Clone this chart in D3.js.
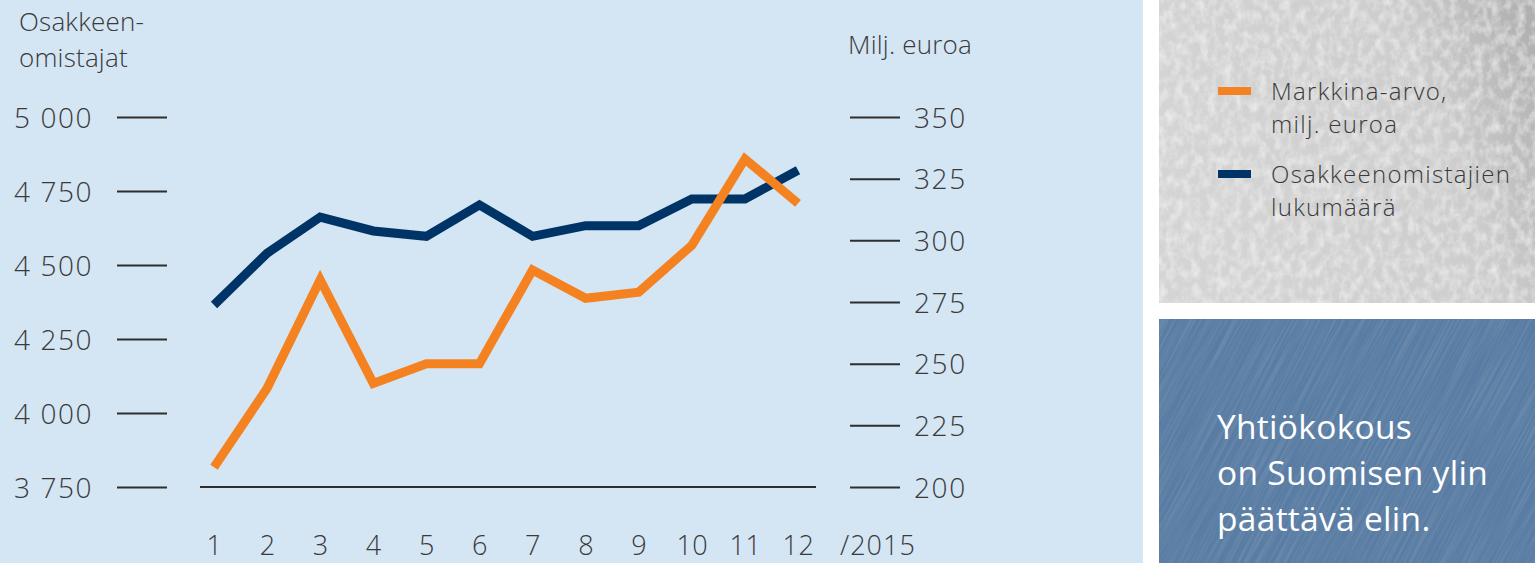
<!DOCTYPE html>
<html><head><meta charset="utf-8">
<script src="https://cdn.jsdelivr.net/npm/d3@7/dist/d3.min.js"></script>
<style>
html,body{margin:0;padding:0;background:#fff;overflow:hidden;}
svg{display:block;}
</style></head>
<body>
<svg id="c" width="1535" height="563"></svg>
<script>
const months = ["1","2","3","4","5","6","7","8","9","10","11","12"];
const shareholders = [4365, 4540, 4662, 4615, 4597, 4703, 4597, 4633, 4633, 4723, 4723, 4820];
const marketValue = [208, 240, 284, 242, 250, 250, 288, 276.5, 279, 298, 333, 315];
const leftTicks = [3750, 4000, 4250, 4500, 4750, 5000];
const rightTicks = [200, 225, 250, 275, 300, 325, 350];
const legendItems = [
  {lines:["Markkina-arvo,","milj. euroa"], color:"#f58220"},
  {lines:["Osakkeenomistajien","lukumäärä"], color:"#003466"}
];
const panelLines = ["Yhtiökokous","on Suomisen ylin","päättävä elin."];

const svg = d3.select("#c");
const font = "'Open Sans', Lato, sans-serif";
const txt = "#3a3a3a";

// defs: textures
const defs = svg.append("defs");
const fg = defs.append("filter").attr("id","greyTex").attr("x",0).attr("y",0).attr("width","100%").attr("height","100%");
fg.append("feTurbulence").attr("type","fractalNoise").attr("baseFrequency","0.12 0.09").attr("numOctaves",5).attr("seed",4).attr("result","n");
fg.append("feColorMatrix").attr("in","n").attr("type","matrix")
  .attr("values","0 0 0 0 0.96  0 0 0 0 0.96  0 0 0 0 0.96  1.1 0 0 0 -0.42").attr("result","a");
fg.append("feComposite").attr("in","a").attr("in2","SourceGraphic").attr("operator","atop");
const fb = defs.append("filter").attr("id","blueTex").attr("x",0).attr("y",0).attr("width","100%").attr("height","100%");
fb.append("feTurbulence").attr("type","fractalNoise").attr("baseFrequency","0.012 0.5").attr("numOctaves",2).attr("seed",7).attr("result","n");
fb.append("feColorMatrix").attr("in","n").attr("type","matrix")
  .attr("values","0 0 0 0 0.48  0 0 0 0 0.6  0 0 0 0 0.74  0.35 0 0 0 -0.14").attr("result","a");
fb.append("feComposite").attr("in","a").attr("in2","SourceGraphic").attr("operator","atop");
const grad = defs.append("linearGradient").attr("id","gg").attr("x1",0).attr("y1",0.3).attr("x2",1).attr("y2",0);
grad.append("stop").attr("offset","0").attr("stop-color","#d4d4d4");
grad.append("stop").attr("offset","0.65").attr("stop-color","#cdcdcd");
grad.append("stop").attr("offset","1").attr("stop-color","#adadad");
defs.append("clipPath").attr("id","bclip").append("rect").attr("x",1159).attr("y",319).attr("width",376).attr("height",244);

// panels
svg.append("rect").attr("x",0).attr("y",0).attr("width",1143).attr("height",563).attr("fill","#d4e5f4");
svg.append("rect").attr("x",1159).attr("y",0).attr("width",376).attr("height",303).attr("fill","url(#gg)").attr("filter","url(#greyTex)");
svg.append("g").attr("clip-path","url(#bclip)")
  .append("g").attr("transform","rotate(-62 1347 441)")
  .append("rect").attr("x",1047).attr("y",141).attr("width",600).attr("height",600)
  .attr("fill","#587ca3").attr("filter","url(#blueTex)");

// scales
const x = d3.scalePoint().domain(months).range([214, 798]);
const yL = d3.scaleLinear().domain([3750, 5000]).range([487, 117]);
const yR = d3.scaleLinear().domain([200, 350]).range([487, 117]);

const tickStyle = s => s.attr("fill",txt).style("font-family",font).style("font-size","28px")
  .style("font-weight",300).style("letter-spacing","1.6px");
const titleStyle = s => s.attr("fill",txt).style("font-family",font).style("font-size","26px")
  .style("font-weight",300).style("letter-spacing","0.2px");

// left axis
const la = svg.append("g").attr("transform","translate(167,0)")
  .call(d3.axisLeft(yL).tickValues(leftTicks).tickSize(50).tickPadding(0).tickFormat(()=>""));
la.select(".domain").remove();
la.selectAll(".tick line").attr("stroke","#2e2e2e").attr("stroke-width",2);
la.selectAll(".tick").append("text").attr("x",-153).attr("dy","0.36em").attr("text-anchor","start")
  .call(tickStyle).text(d=>d3.format(",")(d).replace(","," "));

// right axis
const ra = svg.append("g").attr("transform","translate(850,0)")
  .call(d3.axisRight(yR).tickValues(rightTicks).tickSize(50).tickPadding(0).tickFormat(()=>""));
ra.select(".domain").remove();
ra.selectAll(".tick line").attr("stroke","#2e2e2e").attr("stroke-width",2);
ra.selectAll(".tick").append("text").attr("x",64).attr("dy","0.36em").attr("text-anchor","start")
  .call(tickStyle).text(d=>d);

// baseline
svg.append("line").attr("x1",200).attr("x2",816).attr("y1",yL(3750)).attr("y2",yL(3750))
  .attr("stroke","#2e2e2e").attr("stroke-width",2);

// x labels
const xa = svg.append("g").attr("transform","translate(0,520)")
  .call(d3.axisBottom(x).tickSize(0).tickPadding(0));
xa.select(".domain").remove();
xa.selectAll(".tick text").attr("y",35).attr("dy",0).call(tickStyle).style("font-size","27px").style("letter-spacing","0.5px");
svg.append("text").attr("x",840).attr("y",555).call(tickStyle).style("font-size","27px").style("letter-spacing","1px").text("/2015");

// axis titles
const lt = svg.append("text").call(titleStyle);
lt.append("tspan").attr("x",19).attr("y",31).text("Osakkeen-");
lt.append("tspan").attr("x",19).attr("y",67).text("omistajat");
svg.append("text").attr("x",848).attr("y",54).call(titleStyle).text("Milj. euroa");

// lines
const lineL = d3.line().x((d,i)=>x(months[i])).y(d=>yL(d));
const lineR = d3.line().x((d,i)=>x(months[i])).y(d=>yR(d));
svg.append("path").datum(shareholders).attr("d",lineL).attr("fill","none")
  .attr("stroke","#003466").attr("stroke-width",9).attr("stroke-linejoin","miter");
svg.append("path").datum(marketValue).attr("d",lineR).attr("fill","none")
  .attr("stroke","#f58220").attr("stroke-width",9).attr("stroke-linejoin","miter");

// legend
const lg = svg.append("g");
legendItems.forEach((it,i)=>{
  const y0 = 91 + i*83;
  lg.append("rect").attr("x",1218).attr("y",y0-4).attr("width",33).attr("height",8).attr("fill",it.color);
  it.lines.forEach((l,j)=>lg.append("text").call(titleStyle).style("font-size","24px").style("letter-spacing","1.3px")
    .attr("x",1271).attr("y",y0+9+j*33).text(l));
});

// blue panel text
panelLines.forEach((l,j)=>svg.append("text").attr("fill","#ffffff").style("font-family",font)
  .style("font-size","33.5px").style("font-weight",400).style("letter-spacing","0.3px")
  .attr("x",1217).attr("y",439+j*46).text(l));
</script>
</body></html>
